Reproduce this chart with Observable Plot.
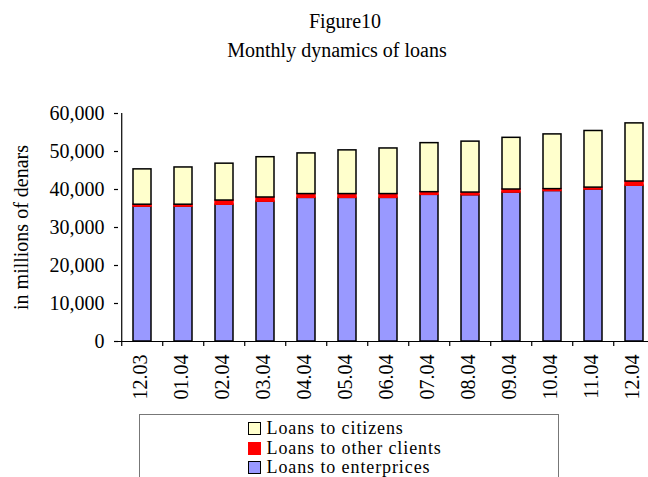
<!DOCTYPE html>
<html>
<head>
<meta charset="utf-8">
<script src="https://cdn.jsdelivr.net/npm/d3@7"></script>
<script src="https://cdn.jsdelivr.net/npm/@observablehq/plot@0.6"></script>
<style>
  html, body { margin: 0; padding: 0; background: #fff; }
  #root { position: relative; width: 648px; height: 477px; overflow: hidden; font-family: "Liberation Serif", "Times New Roman", serif; color: #000; background: #fff; }
  .title { position: absolute; width: 648px; text-align: center; font-size: 20px; line-height: 20px; white-space: nowrap; }
  #chart { position: absolute; left: 0; top: 66px; }
  #chart svg { max-width: none !important; display: block; }
  #legend { position: absolute; left: 139px; top: 414px; width: 420px; height: 90px; border: 1.5px solid #777; box-sizing: border-box; padding-top: 4px; padding-left: 107.5px; }
  .row { display: flex; align-items: center; height: 19.5px; font-size: 18px; line-height: 19.5px; letter-spacing: 0.9px; white-space: nowrap; }
  .sw { width: 13px; height: 13px; box-sizing: border-box; margin-right: 6px; flex: none; }
</style>
</head>
<body>
<div id="root">
  <div class="title" id="t1" style="left:21px; top:11px;"></div>
  <div class="title" id="t2" style="left:13px; top:40px;"></div>
  <div id="chart"></div>
  <div id="legend"></div>
</div>
<script>
const titleText = "Figure10";
const subtitleText = "Monthly dynamics of loans";
const yLabel = "in millions of denars";
const months = ["12.03","01.04","02.04","03.04","04.04","05.04","06.04","07.04","08.04","09.04","10.04","11.04","12.04"];
const enterprises = [35500, 35500, 36000, 36800, 37800, 37800, 37800, 38600, 38500, 39200, 39600, 40000, 41000];
const otherClients = [500, 500, 1100, 1100, 1000, 1000, 1000, 700, 700, 800, 500, 500, 1100];
const citizens = [9300, 9800, 9700, 10600, 10700, 11500, 12000, 12900, 13400, 13600, 14400, 14900, 15300];
const seriesNames = ["Loans to enterprices", "Loans to other clients", "Loans to citizens"];
const seriesColors = ["#9999FF", "#FF0000", "#FFFFCC"];
const seriesStrokes = ["#000000", "#FF0000", "#000000"];
const yTicks = [0, 10000, 20000, 30000, 40000, 50000, 60000];
const legendOrder = [2, 1, 0];

document.getElementById("t1").textContent = titleText;
document.getElementById("t2").textContent = subtitleText;

const seriesValues = [enterprises, otherClients, citizens];
const rows = [];
months.forEach((m, i) => {
  seriesValues.forEach((vals, s) => {
    rows.push({month: m, series: seriesNames[s], si: s, value: vals[i]});
  });
});

const W = 658, ML = 118;
const step = (W - ML) / months.length;

const plot = Plot.plot({
  width: W,
  height: 346,
  marginLeft: ML,
  marginRight: 0,
  marginTop: 47,
  marginBottom: 71,
  style: {fontFamily: "'Liberation Serif', 'Times New Roman', serif", fontSize: "20px", color: "#000", background: "transparent", overflow: "visible", maxWidth: "none"},
  x: {domain: months, paddingInner: 0.56, paddingOuter: 0.28},
  y: {domain: [0, d3.max(yTicks)]},
  color: {type: "identity"},
  marks: [
    Plot.barY(rows, Plot.stackY({
      x: "month", y: "value", z: "series",
      fill: d => seriesColors[d.si],
      stroke: d => seriesStrokes[d.si],
      strokeWidth: 1.5
    })),
    Plot.ruleY([0], {stroke: "#000", strokeWidth: 1.2}),
    Plot.ruleX([months[0]], {y1: 0, y2: d3.max(yTicks), dx: -step / 2, stroke: "#000", strokeWidth: 1.2}),
    Plot.axisY({ticks: yTicks, tickSize: 4, tickPadding: 10, tickFormat: d3.format(","), label: null, strokeWidth: 1.2}),
    Plot.axisX({tickSize: 5, dx: -step / 2, tickFormat: () => "", label: null, strokeWidth: 1.2}),
    Plot.axisX({tickSize: 0, tickPadding: 13, tickRotate: -90, dx: -2, label: null}),
    Plot.text([yLabel], {frameAnchor: "left", textAnchor: "middle", lineAnchor: "middle", rotate: -90, dx: -97, fontSize: 20, fill: "#000"})
  ]
});
document.getElementById("chart").appendChild(plot);

const legend = document.getElementById("legend");
legendOrder.forEach(s => {
  const row = document.createElement("div");
  row.className = "row";
  const sw = document.createElement("span");
  sw.className = "sw";
  sw.style.background = seriesColors[s];
  sw.style.border = s === 1 ? "none" : "1.5px solid #000";
  const tx = document.createElement("span");
  tx.textContent = seriesNames[s];
  row.appendChild(sw);
  row.appendChild(tx);
  legend.appendChild(row);
});
</script>
</body>
</html>
